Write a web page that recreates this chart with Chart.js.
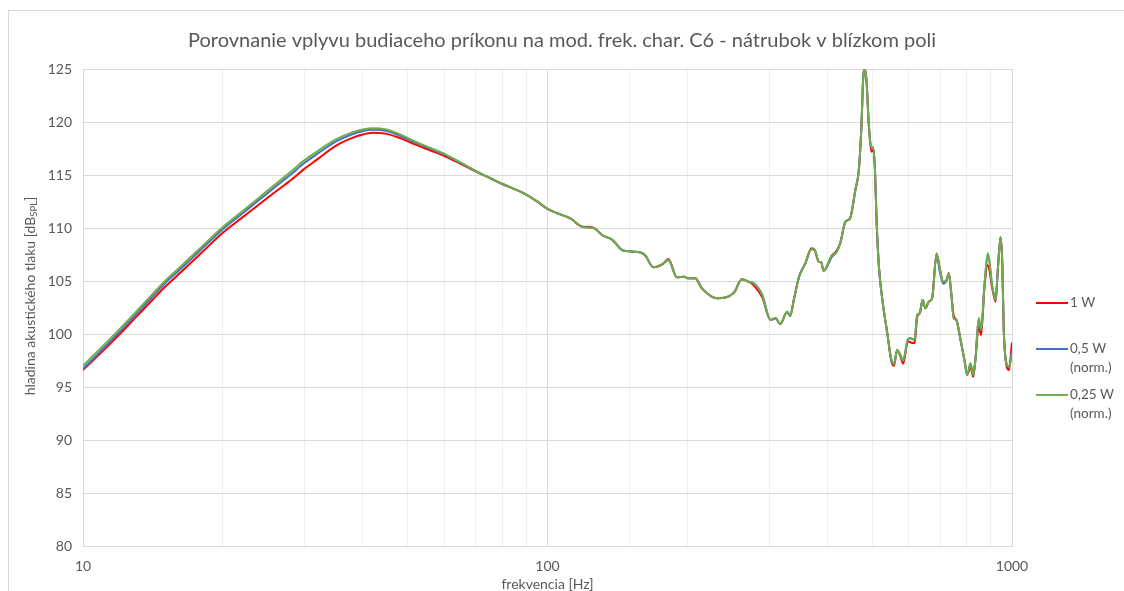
<!DOCTYPE html>
<html>
<head>
<meta charset="utf-8">
<script src="https://cdn.jsdelivr.net/npm/chart.js@4.4.1/dist/chart.umd.min.js"></script>
<style>
  html, body { margin: 0; padding: 0; background: #fff; overflow: hidden; }
  #frame { position: absolute; left: 8px; top: 10px; width: 1200px; height: 700px; border: 1px solid #d9d9d9; }
  #chart { position: absolute; left: 0; top: 0; }
</style>
</head>
<body>
<div id="frame"></div>
<canvas id="chart" width="1124" height="591"></canvas>
<script>
// frequency points [Hz]
const freq = [
  10, 11, 12, 13, 14, 15, 16, 18, 20, 22,
  24, 26, 28, 30, 32, 35, 38, 40, 42, 45,
  48, 52, 56, 60, 65, 70, 75, 80, 85, 90,
  95, 100, 105, 112, 119, 124, 127, 131, 138, 145,
  153, 162, 169, 177, 182, 190, 197, 201, 208, 215,
  232, 252, 262, 271, 278, 290, 302, 310, 317, 328,
  333, 339, 348, 359, 370, 376, 384, 388, 393, 410,
  417, 427, 438, 448, 460, 468, 474, 478, 481, 486,
  492, 498, 503, 507, 511, 517, 526, 539, 550, 557,
  566, 575, 583, 597, 605, 617, 625, 633, 642, 651,
  662, 673, 688, 699, 711, 723, 731, 740, 749, 759,
  775, 790, 801, 814, 825, 834, 848, 858, 872, 887,
  907, 922, 932, 945, 953, 960, 973, 985, 1000
];

// SPL [dB] at 1 W
const spl1W = [
  96.6, 98.35, 100.0, 101.59, 103.06, 104.44, 105.56, 107.67, 109.55, 110.98,
  112.26, 113.44, 114.5, 115.6, 116.5, 117.75, 118.5, 118.82, 118.98, 118.88,
  118.5, 117.86, 117.31, 116.79, 116.06, 115.35, 114.72, 114.15, 113.66, 113.16,
  112.51, 111.8, 111.39, 110.9, 110.12, 110.1, 109.9, 109.34, 108.87, 107.9,
  107.77, 107.45, 106.3, 106.6, 107.08, 105.35, 105.4, 105.25, 105.25, 104.31,
  103.37, 103.9, 105.16, 104.93, 104.6, 103.45, 101.32, 101.48, 100.94, 102.1,
  101.7, 103.2, 105.4, 106.67, 108.1, 107.93, 106.8, 106.8, 105.97, 107.45,
  107.7, 108.6, 110.6, 110.9, 113.58, 115.47, 119.56, 123.96, 125.1, 123.96,
  119.56, 117.2, 117.4, 115.47, 110.75, 106.35, 103.2, 100.06, 97.4, 97.0,
  98.49, 97.9, 97.2, 99.3, 99.2, 99.13, 101.6, 101.95, 103.2, 102.42,
  103.05, 103.37, 107.6, 106.2, 104.9, 105.1, 105.73, 103.84, 101.75, 101.32,
  99.43, 97.55, 96.13, 96.9, 95.97, 97.55, 100.7, 99.9, 104.3, 106.5,
  104.3, 103.05, 106.04, 109.12, 106.67, 100.38, 97.0, 96.6, 99.2
];

// SPL [dB] at 0,5 W, normalised
const spl05W = [
  96.7, 98.52, 100.23, 101.85, 103.35, 104.77, 105.9, 108.01, 109.89, 111.35,
  112.68, 113.91, 115.04, 116.15, 117.02, 118.15, 118.85, 119.13, 119.26, 119.15,
  118.72, 118.04, 117.47, 116.93, 116.14, 115.38, 114.74, 114.15, 113.66, 113.16,
  112.51, 111.8, 111.39, 110.9, 110.12, 110.03, 109.9, 109.34, 108.87, 107.9,
  107.77, 107.45, 106.3, 106.6, 106.98, 105.35, 105.4, 105.25, 105.25, 104.31,
  103.37, 103.9, 105.16, 104.93, 104.78, 103.68, 101.32, 101.48, 100.94, 102.1,
  101.7, 103.2, 105.4, 106.67, 108.0, 107.93, 106.8, 106.8, 105.97, 107.3,
  107.6, 108.6, 110.6, 110.9, 113.58, 115.47, 119.56, 123.96, 125.1, 123.96,
  119.56, 117.6, 117.6, 115.47, 110.75, 106.35, 103.2, 100.06, 97.55, 97.17,
  98.49, 98.0, 97.48, 99.5, 99.6, 99.43, 101.8, 101.95, 103.2, 102.42,
  103.05, 103.37, 107.5, 105.9, 104.75, 105.05, 105.73, 103.84, 101.48, 101.32,
  99.43, 97.55, 96.13, 97.24, 96.13, 97.55, 101.48, 100.38, 104.47, 107.6,
  104.47, 103.2, 106.04, 109.12, 106.67, 100.38, 97.24, 96.92, 98.4
];

// SPL [dB] at 0,25 W, normalised
const spl025W = [
  97.0, 98.8, 100.48, 102.09, 103.58, 104.99, 106.12, 108.22, 110.09, 111.56,
  112.91, 114.16, 115.3, 116.4, 117.25, 118.35, 119.02, 119.3, 119.42, 119.3,
  118.85, 118.14, 117.55, 116.99, 116.18, 115.4, 114.74, 114.15, 113.66, 113.16,
  112.51, 111.8, 111.39, 110.9, 110.12, 110.03, 109.9, 109.34, 108.87, 107.9,
  107.77, 107.45, 106.3, 106.6, 106.98, 105.35, 105.4, 105.25, 105.25, 104.31,
  103.37, 103.9, 105.16, 104.93, 104.78, 103.68, 101.32, 101.48, 100.94, 102.1,
  101.7, 103.2, 105.4, 106.67, 108.0, 107.93, 106.8, 106.8, 105.97, 107.45,
  107.6, 108.6, 110.6, 110.9, 113.58, 115.47, 119.56, 123.96, 125.1, 123.96,
  119.56, 117.6, 117.6, 115.47, 110.75, 106.35, 103.2, 100.06, 97.55, 97.17,
  98.49, 98.0, 97.48, 99.5, 99.6, 99.43, 101.8, 101.95, 103.2, 102.42,
  103.05, 103.37, 107.6, 106.2, 104.93, 105.1, 105.73, 103.84, 101.48, 101.32,
  99.43, 97.55, 96.13, 97.24, 96.13, 97.55, 101.48, 100.38, 104.47, 107.6,
  104.47, 103.2, 106.04, 109.12, 106.67, 100.38, 97.24, 96.92, 98.1
];

const seriesNames = ['1 W', '0,5 W\n(norm.)', '0,25 W\n(norm.)'];
const seriesColors = ['#ff0000', '#4472c4', '#70ad47'];
const yTicks = [80, 85, 90, 95, 100, 105, 110, 115, 120, 125];
const xLabels = [10, 100, 1000];
const chartTitle = 'Porovnanie vplyvu budiaceho príkonu na mod. frek. char. C6 - nátrubok v blízkom poli';

const textColor = '#595959';
const fontFamily = 'Lato, "Open Sans", sans-serif';

function toPoints(values) {
  return freq.map((f, i) => ({ x: f, y: values[i] }));
}

// title across the whole chart, y axis title (with subscript) and the legend on the right
const sideLabels = {
  id: 'sideLabels',
  afterDraw(chart) {
    const ctx = chart.ctx;
    ctx.save();
    ctx.fillStyle = textColor;
    ctx.textBaseline = 'middle';
    ctx.textAlign = 'center';
    ctx.font = '20px ' + fontFamily;
    ctx.fillText(chartTitle, chart.width / 2, 41);
    ctx.restore();

    ctx.save();
    ctx.fillStyle = textColor;
    ctx.textBaseline = 'middle';
    ctx.translate(30, 296);
    ctx.rotate(-Math.PI / 2);
    const mainFont = '14px ' + fontFamily;
    const subFont = '9.5px ' + fontFamily;
    const partA = 'hladina akustického tlaku [dB';
    const partB = 'SPL';
    const partC = ']';
    ctx.font = mainFont;
    const wA = ctx.measureText(partA).width;
    const wC = ctx.measureText(partC).width;
    ctx.font = subFont;
    const wB = ctx.measureText(partB).width;
    let x = -(wA + wB + wC) / 2;
    ctx.font = mainFont;
    ctx.textAlign = 'left';
    ctx.fillText(partA, x, 0);
    x += wA;
    ctx.font = subFont;
    ctx.fillText(partB, x, 4);
    x += wB;
    ctx.font = mainFont;
    ctx.fillText(partC, x, 0);
    ctx.restore();

    ctx.save();
    ctx.font = '13.5px ' + fontFamily;
    ctx.textBaseline = 'middle';
    ctx.textAlign = 'left';
    chart.data.datasets.forEach((ds, i) => {
      const y = 303 + i * 46;
      ctx.strokeStyle = ds.borderColor;
      ctx.lineWidth = 2;
      ctx.beginPath();
      ctx.moveTo(1036, y);
      ctx.lineTo(1068, y);
      ctx.stroke();
      ctx.fillStyle = textColor;
      seriesNames[i].split('\n').forEach((line, j) => {
        ctx.fillText(line, 1070, y + j * 19);
      });
    });
    ctx.restore();
  }
};

const ctx = document.getElementById('chart').getContext('2d');
const chart = new Chart(ctx, {
  type: 'line',
  data: {
    datasets: [
      { label: '1 W', data: toPoints(spl1W), borderColor: seriesColors[0], order: 3 },
      { label: '0,5 W (norm.)', data: toPoints(spl05W), borderColor: seriesColors[1], order: 2 },
      { label: '0,25 W (norm.)', data: toPoints(spl025W), borderColor: seriesColors[2], order: 1 }
    ]
  },
  options: {
    responsive: false,
    animation: false,
    elements: {
      line: { borderWidth: 2, cubicInterpolationMode: 'monotone' },
      point: { radius: 0 }
    },
    layout: { padding: { left: 0, right: 112, top: 69, bottom: 0 } },
    plugins: {
      legend: { display: false },
      tooltip: { enabled: false },
      title: { display: false }
    },
    scales: {
      x: {
        type: 'logarithmic',
        min: 10,
        max: 1000,
        border: { display: true, color: '#d9d9d9' },
        grid: {
          drawTicks: false,
          color: c => (xLabels.includes(c.tick && c.tick.value) ? '#d9d9d9' : '#efefef')
        },
        ticks: {
          autoSkip: false,
          maxRotation: 0,
          padding: 12,
          color: textColor,
          font: { family: fontFamily, size: 14 },
          callback: v => (xLabels.includes(v) ? String(v) : '')
        },
        title: {
          display: true,
          text: 'frekvencia [Hz]',
          color: textColor,
          font: { family: fontFamily, size: 14, lineHeight: 1 },
          padding: 0
        },
        afterFit: scale => { scale.height = 45; }
      },
      y: {
        min: 80,
        max: 125,
        border: { display: true, color: '#d9d9d9' },
        grid: { drawTicks: false, color: '#d9d9d9' },
        afterBuildTicks: scale => { scale.ticks = yTicks.map(v => ({ value: v })); },
        ticks: {
          padding: 11,
          color: textColor,
          font: { family: fontFamily, size: 14 }
        },
        afterFit: scale => { scale.width = 83; }
      }
    }
  },
  plugins: [sideLabels]
});
</script>
</body>
</html>
